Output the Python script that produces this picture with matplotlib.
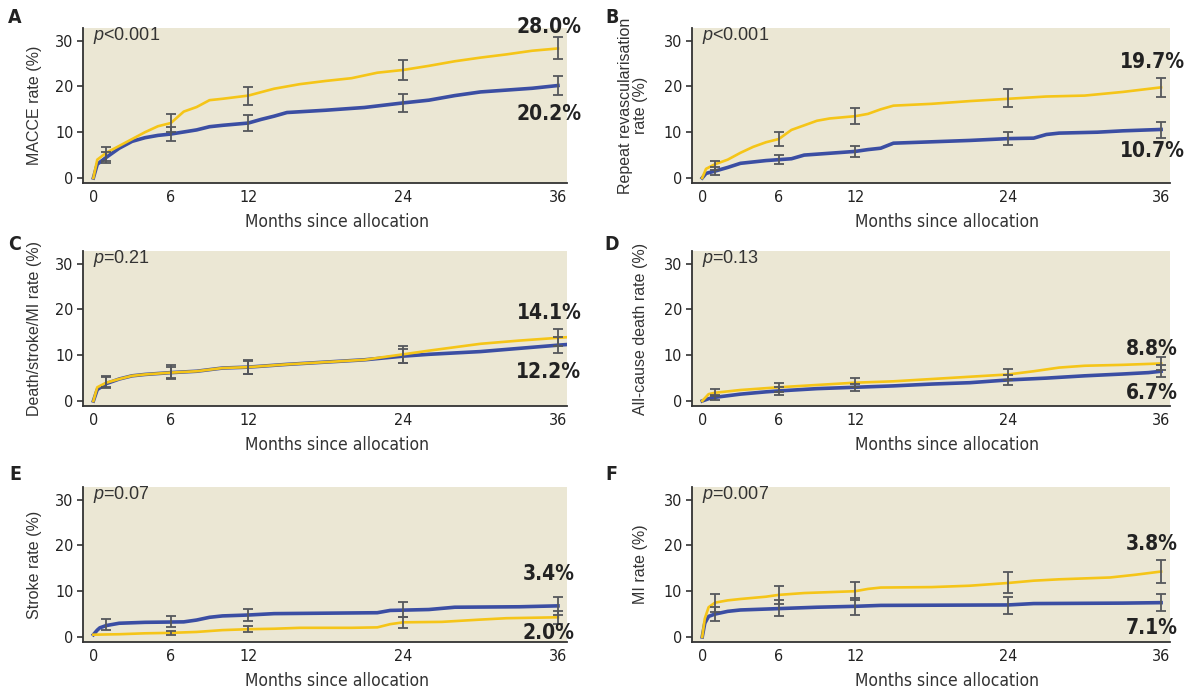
import numpy as np
import matplotlib
matplotlib.use("Agg")
import matplotlib.pyplot as plt

# ==========================================
# DATA
# ==========================================
# Panel A - MACCE
a_yel_t = [0, 0.3, 1, 2, 3, 4, 5, 6, 7, 8, 9, 10, 12, 14, 16, 18, 20, 22, 24, 26, 28, 30, 32, 34, 36]
a_yel_v = [0, 4, 5.5, 7, 8.5, 10, 11.3, 12, 14.5, 15.5, 17, 17.3, 18, 19.5, 20.5, 21.2, 21.8, 23, 23.6, 24.5, 25.5, 26.3, 27, 27.8, 28.3]
a_blu_t = [0, 0.3, 1, 2, 3, 4, 5, 6, 8, 9, 10, 12, 13, 14, 15, 18, 21, 24, 26, 28, 30, 32, 34, 36]
a_blu_v = [0, 3, 4.5, 6.5, 8, 8.8, 9.3, 9.6, 10.5, 11.2, 11.5, 12, 12.8, 13.5, 14.3, 14.8, 15.4, 16.4, 17, 18, 18.8, 19.2, 19.6, 20.2]
a_yel_err = [5.2, 12, 17.9, 23.6, 28.4]
a_yel_ci = [1.5, 2.0, 2.0, 2.2, 2.3]
a_blu_err = [4.5, 9.6, 12.0, 16.4, 20.2]
a_blu_ci = [1.2, 1.5, 1.7, 1.9, 2.1]

# Panel B - repeat revascularisation
b_yel_t = [0, 0.3, 1, 2, 3, 4, 5, 6, 7, 8, 9, 10, 12, 13, 14, 15, 18, 21, 24, 27, 30, 33, 36]
b_yel_v = [0, 2, 3, 4, 5.5, 6.8, 7.8, 8.5, 10.5, 11.5, 12.5, 13, 13.5, 14, 15, 15.8, 16.2, 16.8, 17.3, 17.8, 18, 18.8, 19.8]
b_blu_t = [0, 0.3, 1, 2, 3, 5, 6, 7, 8, 10, 12, 13, 14, 15, 18, 21, 24, 26, 27, 28, 31, 33, 36]
b_blu_v = [0, 1, 1.5, 2.3, 3.2, 3.8, 4, 4.2, 5, 5.4, 5.8, 6.2, 6.5, 7.6, 7.9, 8.2, 8.6, 8.7, 9.5, 9.8, 10, 10.3, 10.6]
b_yel_err = [2.8, 8.5, 13.5, 17.5, 19.8]
b_yel_ci = [1.0, 1.5, 1.8, 2.0, 2.0]
b_blu_err = [1.5, 4.0, 5.8, 8.6, 10.5]
b_blu_ci = [0.8, 1.0, 1.2, 1.4, 1.7]

# Panel C - death/stroke/MI
c_yel_t = [0, 0.3, 1, 2, 3, 4, 6, 8, 10, 12, 15, 18, 21, 24, 26, 30, 33, 36, 37]
c_yel_v = [0, 3, 4, 4.8, 5.5, 5.8, 6.2, 6.5, 7.2, 7.4, 8, 8.5, 9, 10.2, 11, 12.5, 13.2, 13.8, 14]
c_blu_t = [0, 0.3, 1, 2, 3, 4, 6, 8, 10, 12, 15, 18, 21, 24, 26, 30, 33, 36, 37]
c_blu_v = [0, 2.5, 3.8, 4.8, 5.5, 5.8, 6.2, 6.5, 7.2, 7.4, 8, 8.5, 9, 9.8, 10.2, 10.8, 11.5, 12.2, 12.4]
c_yel_err = [4.3, 6.4, 7.4, 10.2, 13.9]
c_yel_ci = [1.2, 1.5, 1.5, 1.8, 1.9]
c_blu_err = [4.0, 6.2, 7.3, 9.8, 12.2]
c_blu_ci = [1.2, 1.2, 1.4, 1.6, 1.8]

# Panel D - all-cause death
d_yel_t = [0, 0.5, 1, 3, 6, 9, 12, 15, 18, 21, 24, 26, 28, 30, 33, 36]
d_yel_v = [0, 1.5, 1.8, 2.4, 3, 3.5, 4, 4.3, 4.8, 5.3, 5.8, 6.5, 7.3, 7.7, 7.9, 8.2]
d_blu_t = [0, 0.5, 1, 3, 5, 6, 9, 12, 15, 18, 21, 24, 27, 30, 33, 35, 36]
d_blu_v = [0, 0.5, 0.8, 1.5, 2, 2.2, 2.7, 3, 3.3, 3.7, 4, 4.6, 5, 5.5, 5.9, 6.2, 6.5]
d_yel_err = [1.8, 3.0, 4.0, 5.8, 8.2]
d_yel_ci = [0.8, 1.0, 1.0, 1.2, 1.5]
d_blu_err = [0.8, 2.2, 3.0, 4.6, 6.5]
d_blu_ci = [0.6, 0.8, 0.8, 1.1, 1.3]

# Panel E - stroke
e_yel_t = [0, 2, 4, 6, 8, 10, 12, 14, 16, 20, 22, 23, 24, 27, 30, 32, 36]
e_yel_v = [0.5, 0.6, 0.8, 0.9, 1.1, 1.5, 1.7, 1.8, 2, 2, 2.1, 2.8, 3.2, 3.3, 3.8, 4.1, 4.3]
e_blu_t = [0, 0.3, 0.5, 1, 2, 4, 7, 8, 9, 10, 12, 14, 18, 22, 23, 26, 28, 33, 36]
e_blu_v = [0.5, 1.5, 2, 2.5, 3, 3.2, 3.3, 3.7, 4.3, 4.6, 4.8, 5.1, 5.2, 5.3, 5.8, 6, 6.5, 6.6, 6.8]
e_yel_err = [None, 0.9, 1.7, 3.2, 4.3]
e_yel_ci = [None, 0.5, 0.7, 1.2, 1.4]
e_blu_err = [2.7, 3.3, 4.8, 6.0, 6.8]
e_blu_ci = [1.2, 1.2, 1.4, 1.7, 2.0]

# Panel F - MI
f_yel_t = [0, 0.2, 0.5, 1, 2, 3, 5, 6, 8, 10, 12, 13, 14, 18, 21, 24, 26, 28, 32, 34, 36]
f_yel_v = [0, 4, 6.5, 7.5, 8, 8.3, 8.8, 9.2, 9.6, 9.8, 10, 10.5, 10.8, 10.9, 11.2, 11.8, 12.3, 12.6, 13, 13.6, 14.3]
f_blu_t = [0, 0.2, 0.5, 1, 2, 3, 6, 9, 12, 14, 24, 26, 33, 36]
f_blu_v = [0, 3, 4.5, 5, 5.6, 5.9, 6.2, 6.5, 6.7, 6.9, 7, 7.3, 7.4, 7.5]
f_yel_err = [7.5, 9.2, 10.0, 12.0, 14.3]
f_yel_ci = [2.0, 2.0, 2.0, 2.3, 2.5]
f_blu_err = [5.0, 6.3, 6.7, 6.9, 7.5]
f_blu_ci = [1.5, 1.7, 1.8, 1.8, 1.8]

err_months = [1, 6, 12, 24, 36]
x_ticks = [0, 6, 12, 24, 36]
y_ticks = [0, 10, 20, 30]

# ==========================================
# STYLE
# ==========================================
BG = '#ebe7d4'
YEL = '#f5c518'
BLU = '#3b4ea3'
ERR = '#55575c'
plt.rcParams['mathtext.fontset'] = 'custom'
plt.rcParams['mathtext.it'] = 'Liberation Sans:italic'
plt.rcParams['mathtext.rm'] = 'Liberation Sans'

# condensed look for ticks and end labels
NARROW = dict(family='DejaVu Sans', stretch='condensed')

panels = [
    dict(key='A', ylabel='MACCE rate (%)', p=r'$p$<0.001',
         yel=(a_yel_t, a_yel_v, a_yel_err, a_yel_ci), blu=(a_blu_t, a_blu_v, a_blu_err, a_blu_ci),
         lab=[('28.0%', 32.9), ('20.2%', 14.0)]),
    dict(key='B', ylabel='Repeat revascularisation\nrate (%)', p=r'$p$<0.001',
         yel=(b_yel_t, b_yel_v, b_yel_err, b_yel_ci), blu=(b_blu_t, b_blu_v, b_blu_err, b_blu_ci),
         lab=[('19.7%', 25.4), ('10.7%', 5.9)]),
    dict(key='C', ylabel='Death/stroke/MI rate (%)', p=r'$p$=0.21',
         yel=(c_yel_t, c_yel_v, c_yel_err, c_yel_ci), blu=(c_blu_t, c_blu_v, c_blu_err, c_blu_ci),
         lab=[('14.1%', 19.3), ('12.2%', 6.3)]),
    dict(key='D', ylabel='All-cause death rate (%)', p=r'$p$=0.13',
         yel=(d_yel_t, d_yel_v, d_yel_err, d_yel_ci), blu=(d_blu_t, d_blu_v, d_blu_err, d_blu_ci),
         lab=[('8.8%', 11.3), ('6.7%', 1.8)]),
    dict(key='E', ylabel='Stroke rate (%)', p=r'$p$=0.07',
         yel=(e_yel_t, e_yel_v, e_yel_err, e_yel_ci), blu=(e_blu_t, e_blu_v, e_blu_err, e_blu_ci),
         lab=[('3.4%', 13.7), ('2.0%', 0.9)]),
    dict(key='F', ylabel='MI rate (%)', p=r'$p$=0.007',
         yel=(f_yel_t, f_yel_v, f_yel_err, f_yel_ci), blu=(f_blu_t, f_blu_v, f_blu_err, f_blu_ci),
         lab=[('3.8%', 20.4), ('7.1%', 2.0)]),
]

col_left = [0.0695, 0.5791]
col_width = [0.405, 0.400]
row_bottom = [0.7344, 0.4107, 0.0682]
row_height = 0.2245
letter_y = [0.974, 0.645, 0.311]

fig = plt.figure(figsize=(11.95, 6.89), dpi=100, facecolor='white')

def draw_err(ax, means, cis):
    for m, v, c in zip(err_months, means, cis):
        if v is None:
            continue
        ax.errorbar(m, v, yerr=c, fmt='none', ecolor=ERR, elinewidth=1.3,
                    capsize=3.5, capthick=1.3, zorder=5)

for i, pnl in enumerate(panels):
    row, col = divmod(i, 2)
    ax = fig.add_axes([col_left[col], row_bottom[row], col_width[col], row_height])
    ax.set_facecolor(BG)
    ax.set_xlim(-0.8, 36.7)
    ax.set_ylim(-1.1, 32.7)

    yt, yv, ye, yc = pnl['yel']
    bt, bv, be, bc = pnl['blu']
    ax.plot(bt, bv, color=BLU, lw=2.6, zorder=3)
    ax.plot(yt, yv, color=YEL, lw=1.9, zorder=4)
    draw_err(ax, ye, yc)
    draw_err(ax, be, bc)

    ax.set_xticks(x_ticks)
    ax.set_yticks(y_ticks)
    ax.tick_params(axis='y', direction='out', length=4, width=1.2, color='#333333',
                   pad=3, labelsize=11.5, labelcolor='#222222')
    ax.tick_params(axis='x', length=0, pad=5, labelsize=11.5, labelcolor='#222222')
    for lbl in ax.get_xticklabels() + ax.get_yticklabels():
        lbl.set_family(NARROW['family'])
        lbl.set_stretch(NARROW['stretch'])

    for s in ['top', 'right']:
        ax.spines[s].set_visible(False)
    for s in ['left', 'bottom']:
        ax.spines[s].set_color('#333333')
        ax.spines[s].set_linewidth(1.3)

    ax.set_ylabel(pnl['ylabel'], fontsize=11.5, family='Liberation Sans', color='#333333',
                  linespacing=1.0)
    ax.yaxis.set_label_coords(-0.085 if col == 0 else -0.092, 0.5)
    ax.set_xlabel('Months since allocation', fontsize=12.5, color='#333333', va='center',
                  **NARROW)
    ax.xaxis.set_label_coords(0.525 if col == 0 else 0.533, -0.25)

    ax.text(0, 31.1, pnl['p'], fontsize=13, family='Liberation Sans', color='#333333',
            ha='left', va='center')

    for txt, yy in pnl['lab']:
        ax.text(35.3, yy, txt, fontsize=15, fontweight='bold', color='#222222',
                ha='center', va='center', clip_on=False, zorder=6, **NARROW)

    fig.text(0.0126 if col == 0 else 0.512, letter_y[row], pnl['key'],
             fontsize=14, fontweight='bold', color='#222222',
             ha='center', va='center', **NARROW)

fig.savefig('out.png', dpi=100, facecolor='white')
